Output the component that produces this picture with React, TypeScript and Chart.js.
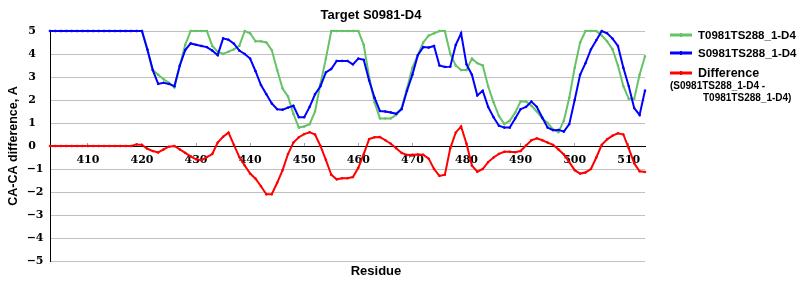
import { useEffect, useRef } from "react";
import { Chart, registerables } from "chart.js";

Chart.register(...registerables);

const chartTitle = "Target S0981-D4";
const xAxisTitle = "Residue";
const yAxisTitle = "CA-CA difference, A";
const seriesNames = ["T0981TS288_1-D4", "S0981TS288_1-D4", "Difference"];
const diffNoteLines = ["(S0981TS288_1-D4 -", "T0981TS288_1-D4)"];

const residues = [
  403, 404, 405, 406, 407, 408, 409, 410, 411, 412, 413, 414, 415, 416, 417, 418, 419, 420,
  421, 422, 423, 424, 425, 426, 427, 428, 429, 430, 431, 432, 433, 434, 435, 436, 437, 438,
  439, 440, 441, 442, 443, 444, 445, 446, 447, 448, 449, 450, 451, 452, 453, 454, 455, 456,
  457, 458, 459, 460, 461, 462, 463, 464, 465, 466, 467, 468, 469, 470, 471, 472, 473, 474,
  475, 476, 477, 478, 479, 480, 481, 482, 483, 484, 485, 486, 487, 488, 489, 490, 491, 492,
  493, 494, 495, 496, 497, 498, 499, 500, 501, 502, 503, 504, 505, 506, 507, 508, 509, 510,
  511, 512, 513,
];

const tValues = [
  5, 5, 5, 5, 5, 5, 5, 5, 5, 5, 5, 5, 5, 5, 5, 5, 5, 5,
  4.2, 3.3, 3.1, 2.9, 2.75, 2.55, 3.5, 4.4, 5, 5, 5, 5, 4.35, 4.1, 4.0, 4.1, 4.2, 4.35,
  5, 4.9, 4.55, 4.55, 4.5, 4.17, 3.3, 2.5, 2.15, 1.4, 0.8, 0.85, 0.95, 1.5, 2.7, 3.8, 5, 5,
  5, 5, 5, 5, 4.4, 3.0, 1.9, 1.2, 1.2, 1.2, 1.35, 1.65, 2.5, 3.4, 3.95, 4.5, 4.8, 4.9,
  5, 5, 4.0, 3.5, 3.3, 3.3, 3.8, 3.6, 3.5, 2.6, 1.9, 1.3, 0.95, 1.1, 1.45, 1.94, 1.94, 1.75,
  1.5, 1.2, 1.0, 0.72, 0.6, 1.1, 2.1, 3.4, 4.5, 5, 5, 5, 4.8, 4.55, 4.2, 3.5, 2.6, 2.05,
  2.05, 3.1, 3.9,
];

const sValues = [
  5, 5, 5, 5, 5, 5, 5, 5, 5, 5, 5, 5, 5, 5, 5, 5, 5, 5,
  4.2, 3.3, 2.7, 2.75, 2.7, 2.6, 3.5, 4.17, 4.46, 4.4, 4.35, 4.3, 4.15, 3.95, 4.68, 4.62, 4.45, 4.15,
  4.0, 3.8, 3.25, 2.65, 2.25, 1.85, 1.6, 1.58, 1.67, 1.75, 1.25, 1.25, 1.7, 2.25, 2.6, 3.2, 3.35, 3.7,
  3.7, 3.7, 3.55, 3.8, 3.75, 2.85, 2.1, 1.52, 1.5, 1.46, 1.4, 1.6, 2.4, 3.1, 3.95, 4.3, 4.28, 4.35,
  3.5, 3.44, 3.45, 4.39, 4.9, 3.55, 3.1, 2.2, 2.4, 1.7, 1.25, 0.88, 0.8, 0.8, 1.2, 1.6, 1.7, 1.93,
  1.7, 1.24, 0.8, 0.69, 0.7, 0.63, 0.95, 2.0, 3.1, 3.6, 4.2, 4.6, 5, 4.9, 4.67, 4.35, 3.4, 2.6,
  1.65, 1.35, 2.41,
];

const diffValues = [
  0, 0, 0, 0, 0, 0, 0, 0, 0, 0, 0, 0, 0, 0, 0, 0, 0.07, 0.05,
  -0.12, -0.22, -0.28, -0.15, -0.03, 0, -0.15, -0.3, -0.45, -0.58, -0.62, -0.48, -0.35, 0.15, 0.4, 0.58, 0.05, -0.48,
  -0.85, -1.2, -1.42, -1.75, -2.1, -2.1, -1.6, -1.05, -0.35, 0.15, 0.38, 0.52, 0.6, 0.5, 0.0, -0.6, -1.25, -1.45,
  -1.4, -1.4, -1.35, -0.95, -0.35, 0.3, 0.38, 0.39, 0.25, 0.1, -0.1, -0.3, -0.39, -0.38, -0.37, -0.38, -0.55, -1.0,
  -1.3, -1.25, -0.1, 0.58, 0.85, 0.1, -0.85, -1.12, -1.0, -0.7, -0.5, -0.34, -0.25, -0.25, -0.27, -0.22, 0.02, 0.25,
  0.33, 0.25, 0.15, 0.05, -0.15, -0.37, -0.7, -1.05, -1.2, -1.15, -1.0, -0.5, 0.05, 0.29, 0.45, 0.55, 0.5, -0.1,
  -0.75, -1.1, -1.13,
];

const xTickValues = [410, 420, 430, 440, 450, 460, 470, 480, 490, 500, 510];
const yTickValues = [-5, -4, -3, -2, -1, 0, 1, 2, 3, 4, 5];

const GREEN = "#66c266";
const BLUE = "#0000ff";
const RED = "#ff0000";
const colors = [GREEN, BLUE, RED];

const SANS = '"Liberation Sans", Arial, sans-serif';
const SERIF = '"DejaVu Serif", serif';

const textPlugin = {
  id: "textPlugin",
  afterDraw(chart: any) {
    const ctx = chart.ctx as CanvasRenderingContext2D;
    ctx.save();
    ctx.fillStyle = "#000";
    ctx.textBaseline = "middle";
    ctx.textAlign = "center";
    ctx.font = `bold 13px ${SANS}`;
    ctx.fillText(chartTitle, 371, 15);
    ctx.fillText(xAxisTitle, 376, 271);

    // legend
    const rows = [35, 53, 73];
    ctx.textAlign = "left";
    for (let i = 0; i < 3; i++) {
      const y = rows[i];
      ctx.strokeStyle = colors[i];
      ctx.lineWidth = 3;
      ctx.beginPath();
      ctx.moveTo(670, y);
      ctx.lineTo(692, y);
      ctx.stroke();
      ctx.fillStyle = colors[i];
      ctx.fillRect(680, y - 2, 2, 4);
      ctx.fillStyle = "#000";
      ctx.font = `bold ${i === 2 ? 12.5 : 11.5}px ${SANS}`;
      ctx.fillText(seriesNames[i], 698, y + 0.5);
    }
    ctx.font = `bold 10px ${SANS}`;
    ctx.fillText(diffNoteLines[0], 670, 86);
    ctx.fillText(diffNoteLines[1], 703, 98);
    ctx.restore();
  },
};

export default function App() {
  const ref = useRef<HTMLCanvasElement | null>(null);

  useEffect(() => {
    document.body.style.margin = "0";
    const canvas = ref.current;
    if (!canvas) return;
    const mk = (label: string, values: number[], color: string, order: number) => ({
      label,
      data: residues.map((r, i) => ({ x: r, y: values[i] })),
      borderColor: color,
      backgroundColor: color,
      borderWidth: 2,
      pointRadius: 1,
      pointStyle: "rect",
      pointBorderWidth: 1,
      tension: 0,
      clip: 6,
      order,
    });
    const chart = new Chart(canvas, {
      type: "line",
      data: {
        datasets: [
          mk(seriesNames[0], tValues, GREEN, 3),
          mk(seriesNames[1], sValues, BLUE, 2),
          mk(seriesNames[2], diffValues, RED, 1),
        ],
      },
      plugins: [textPlugin],
      options: {
        responsive: false,
        animation: false,
        devicePixelRatio: 1,
        layout: { padding: { left: 0, right: 155, top: 31, bottom: 39 } },
        plugins: {
          legend: { display: false },
          title: { display: false },
          tooltip: { enabled: false },
        },
        scales: {
          x: {
            type: "linear",
            min: residues[0],
            max: residues[residues.length - 1],
            position: { y: 0 },
            afterBuildTicks: (scale: any) => {
              scale.ticks = xTickValues.map((v) => ({ value: v }));
            },
            grid: {
              drawOnChartArea: false,
              drawTicks: true,
              tickLength: -4,
              color: "#a0a0a0",
            },
            border: { display: true, color: "#000", width: 1 },
            ticks: {
              padding: 11.4,
              color: "#000",
              font: { family: SERIF, size: 11, weight: "bold" },
              maxRotation: 0,
              autoSkip: false,
              callback: (v: any) => String(v),
            },
          },
          y: {
            type: "linear",
            min: -5,
            max: 5,
            afterBuildTicks: (scale: any) => {
              scale.ticks = yTickValues.map((v) => ({ value: v }));
            },
            afterFit: (scale: any) => {
              scale.width = 50;
            },
            grid: { color: "#c0c0c0", drawTicks: false, lineWidth: 1 },
            border: { display: true, color: "#000", width: 1 },
            ticks: {
              padding: 6.5,
              color: "#000",
              font: { family: SERIF, size: 11, weight: "bold" },
              callback: (v: any) => (v < 0 ? "\u2212" + Math.abs(v) : String(v) + "\u2007"),
            },
            title: {
              display: true,
              text: yAxisTitle,
              color: "#000",
              font: { family: SANS, size: 12.5, weight: "bold" },
              padding: { top: 6, bottom: 0 },
            },
          },
        },
      } as any,
    });
    return () => chart.destroy();
  }, []);

  return (
    <div style={{ position: "absolute", left: 0, top: 0, width: 800, height: 300, background: "#fff" }}>
      <canvas ref={ref} width={800} height={300} style={{ display: "block", width: 800, height: 300 }} />
    </div>
  );
}
